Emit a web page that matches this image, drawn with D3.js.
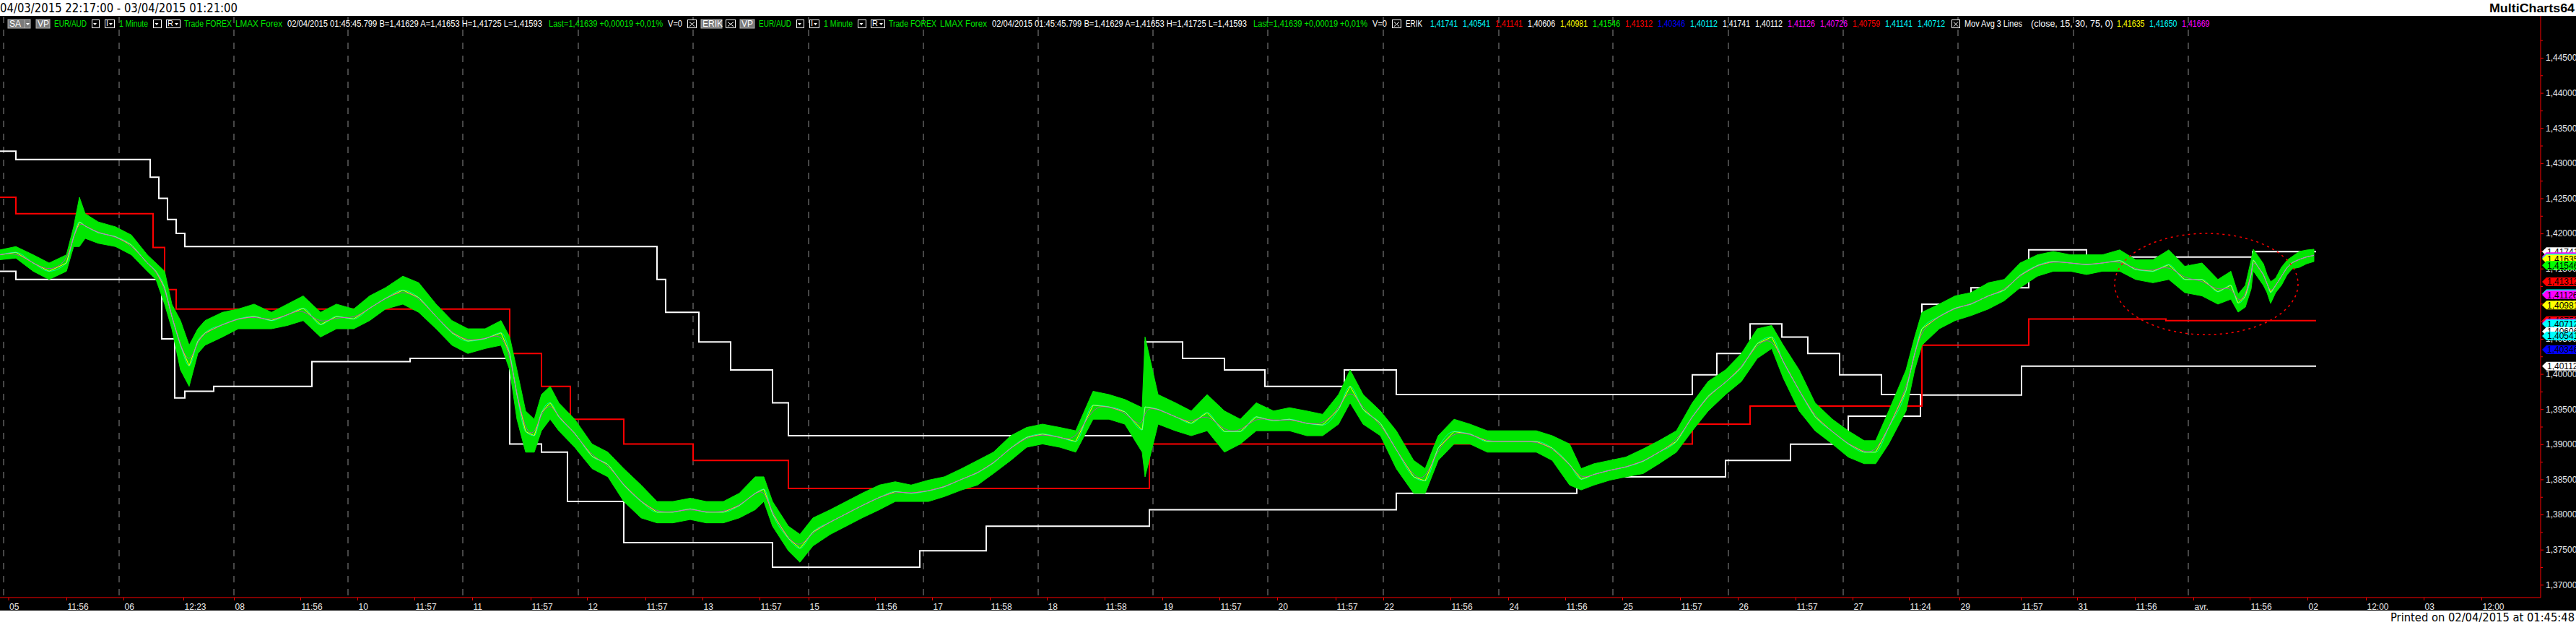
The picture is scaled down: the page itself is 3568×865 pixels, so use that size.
<!DOCTYPE html>
<html>
<head>
<meta charset="utf-8">
<script src="https://d3js.org/d3.v7.min.js"></script>
<style>
  body { margin: 0; background: #fff; }
  text { font-family: "Liberation Sans Narrow", "Liberation Sans", Arial, sans-serif; }
</style>
</head>
<body>
<script>
// ---- data (bar index = 1 minute bar, prices EUR/AUD) ----
var sampleBars = [0,11,23,34,46,51,55,59,68,80,91,102,108,114,119,125,131,137,142,154,
  165,176,188,199,210,222,233,245,256,267,279,290,302,313,324,336,347,353,358,364,
  370,375,381,387,398,410,421,432,444,455,466,478,489,501,512,523,529,535,546,554,
  563,575,586,597,609,620,631,643,654,666,677,688,700,711,722,734,745,757,768,779,
  791,793,802,814,825,836,848,859,870,882,893,905,916,927,935,944,956,967,979,987,
  996,1007,1018,1030,1041,1052,1064,1075,1087,1095,1104,1115,1126,1138,1149,1161,1172,1183,1195,1206,
  1217,1227,1235,1246,1257,1269,1280,1291,1299,1308,1320,1326,1331,1343,1354,1365,1377,1388,1399,1411,
  1422,1434,1445,1456,1468,1479,1491,1502,1513,1525,1536,1545,1550,1555,1559,1560.5,1564,1567.5,1570,1572.5,
  1576,1580,1584,1587.5,1592.5,1597.5,1602.5];
var hiPrice = [1.41766,1.41813,1.41696,1.41579,1.41696,1.42094,1.42515,1.42281,1.42164,1.42094,
  1.41977,1.41696,1.41579,1.41462,1.40994,1.40760,1.40409,1.40643,1.40760,1.40877,
  1.40924,1.40994,1.40877,1.40994,1.41111,1.40877,1.40994,1.40924,1.41111,1.41228,
  1.41392,1.41298,1.40994,1.40760,1.40643,1.40643,1.40760,1.40526,1.40058,1.39473,
  1.39356,1.39707,1.39824,1.39590,1.39356,1.39004,1.38887,1.38653,1.38419,1.38185,
  1.38185,1.38232,1.38185,1.38185,1.38302,1.38536,1.38536,1.38185,1.37834,1.37717,
  1.37951,1.38068,1.38185,1.38302,1.38419,1.38466,1.38419,1.38489,1.38536,1.38653,
  1.38770,1.38887,1.39121,1.39239,1.39286,1.39239,1.39192,1.39754,1.39707,1.39637,
  1.39520,1.40526,1.39707,1.39590,1.39473,1.39707,1.39473,1.39356,1.39590,1.39473,
  1.39520,1.39473,1.39426,1.39707,1.40058,1.39707,1.39473,1.39192,1.38770,1.38653,
  1.39121,1.39356,1.39286,1.39192,1.39192,1.39192,1.39192,1.39121,1.39004,1.38653,
  1.38723,1.38770,1.38817,1.38934,1.39051,1.39192,1.39590,1.39894,1.40058,1.40292,
  1.40643,1.40690,1.40409,1.40058,1.39590,1.39356,1.39192,1.39051,1.39051,1.39473,
  1.40058,1.40526,1.40877,1.40994,1.41111,1.41158,1.41298,1.41345,1.41579,1.41696,
  1.41743,1.41696,1.41696,1.41696,1.41766,1.41626,1.41626,1.41766,1.41532,1.41579,
  1.41345,1.41462,1.41137,1.41261,1.41621,1.41775,1.41672,1.41569,1.41415,1.41312,
  1.41364,1.41518,1.41621,1.41672,1.41744,1.41764,1.41775];
var loPrice = [1.41626,1.41649,1.41462,1.41345,1.41462,1.41813,1.41813,1.41930,1.41860,1.41813,
  1.41696,1.41462,1.41345,1.40994,1.40643,1.40058,1.39824,1.40292,1.40409,1.40526,
  1.40643,1.40643,1.40643,1.40690,1.40760,1.40526,1.40643,1.40643,1.40760,1.40924,
  1.40994,1.40877,1.40643,1.40409,1.40292,1.40362,1.40409,1.40058,1.39356,1.38887,
  1.38887,1.39192,1.39356,1.39192,1.38957,1.38653,1.38536,1.38185,1.37951,1.37881,
  1.37881,1.37928,1.37881,1.37881,1.37951,1.38068,1.38185,1.37834,1.37484,1.37320,
  1.37553,1.37717,1.37834,1.37951,1.38068,1.38185,1.38185,1.38185,1.38255,1.38349,
  1.38419,1.38583,1.38770,1.38957,1.39004,1.38957,1.38887,1.39356,1.39356,1.39286,
  1.38887,1.38536,1.39286,1.39192,1.39121,1.39192,1.38887,1.39004,1.39192,1.39192,
  1.39192,1.39121,1.39121,1.39286,1.39590,1.39286,1.39121,1.38653,1.38302,1.38302,
  1.38770,1.39004,1.39004,1.38887,1.38887,1.38887,1.38887,1.38770,1.38419,1.38349,
  1.38419,1.38489,1.38536,1.38583,1.38723,1.38887,1.39192,1.39473,1.39707,1.39894,
  1.40222,1.40362,1.39941,1.39473,1.39192,1.39004,1.38817,1.38723,1.38723,1.39004,
  1.39473,1.40058,1.40409,1.40643,1.40760,1.40830,1.40924,1.41041,1.41228,1.41392,
  1.41462,1.41462,1.41415,1.41462,1.41462,1.41345,1.41298,1.41345,1.41158,1.41111,
  1.40994,1.41064,1.40880,1.40952,1.41209,1.41466,1.41363,1.41261,1.41158,1.41004,
  1.41158,1.41261,1.41415,1.41497,1.41518,1.41569,1.41600];

// channel (step lines): [bar, price]
var upperBand = [[0,1.43170],[11,1.43053],[104,1.4280],[110,1.4250],[116,1.4220],[122,1.4200],[128,1.41813],[455,1.41345],
  [461,1.40877],[484,1.40456],[506,1.40058],[535,1.39590],[546,1.39121],[793,1.40456],[819,1.40222],
  [848,1.40058],[876,1.39824],[931,1.40058],[967,1.39707],[1172,1.39988],[1189,1.40292],[1212,1.40713],
  [1234,1.40526],[1252,1.40292],[1274,1.39988],[1303,1.39707],[1331,1.40994],[1365,1.41228],
  [1405,1.41766],[1445,1.41665],[1560,1.41741],[1604,1.41741]];
var lowerBand = [[0,1.41462],[11,1.41345],[112,1.4050],[121,1.39660],[128,1.39754],[148,1.39824],
  [216,1.40175],[284,1.40222],[353,1.39004],[375,1.38887],[393,1.38185],[432,1.37600],[535,1.37249],
  [637,1.37484],[683,1.37834],[796,1.38068],[967,1.38302],[1092,1.38536],[1195,1.38770],[1240,1.39000],
  [1280,1.39400],[1330,1.39700],[1400,1.40112],[1604,1.40112]];
var midBand = [[0,1.42515],[11,1.42281],[106,1.4180],[114,1.4120],[122,1.40924],[353,1.40292],
  [375,1.39824],[395,1.39356],[432,1.39004],[480,1.38770],[546,1.38372],[796,1.39004],[1172,1.39286],
  [1212,1.39543],[1331,1.40409],[1405,1.40783],[1500,1.40759],[1604,1.40759]];

// axes
var yMajor = [1.370,1.375,1.380,1.385,1.390,1.395,1.400,1.405,1.410,1.415,1.420,1.425,1.430,1.435,1.440,1.445];
var yMinor = [1.3725,1.3775,1.3825,1.3875,1.3925,1.3975,1.4025,1.4075,1.4125,1.4175,1.4225,1.4275,1.4325,1.4375,1.4425,1.4475];
var xTickBars = [5.75,46,85.5,127,162,208,247.5,287,327,367.5,406.5,447,486.5,526,560,606,645.5,685.5,725,765,
  805,844.5,884.5,925,958,1004.5,1044.5,1084,1123.5,1163.5,1203.5,1243.5,1283,1322,1357,1399.5,1438.5,
  1478.5,1519,1558,1598,1638.5,1678.5,1718.5];
var xLabels = ["05","11:56","06","12:23","08","11:56","10","11:57","11","11:57","12","11:57","13","11:57",
  "15","11:56","17","11:58","18","11:58","19","11:57","20","11:57","22","11:56","24","11:56","25","11:57",
  "26","11:57","27","11:24","29","11:57","31","11:56","avr.","11:56","02","12:00","03","12:00"];
var gridBars = [2.5,82.5,162,241,320.5,400.5,480,560,639.5,719,798.5,878,958,1038,1117,1197,1276.5,1356,1436,1515.5];

// price flags on the right scale
var flagValues = [1.41741,1.41669,1.41650,1.41635,1.41546,1.41312,1.41141,1.41126,1.40981,1.40759,1.40726,1.40712,1.40606,1.40541,1.40346,1.40112];
var flagColors = ["#ffffff","#ff00ff","#00ffff","#ffff00","#00ff00","#ff0000","#00ffff","#ff00ff","#ffff00","#ff0000","#ff00ff","#00ffff","#ffffff","#00ffff","#0000ff","#ffffff"];

// ERIK study values in the status line
var erikValues = ["1,41741","1,40541","1,41141","1,40606","1,40981","1,41546","1,41312","1,40346","1,40112","1,41741","1,40112","1,41126","1,40726","1,40759","1,41141","1,40712"];
var erikColors = ["#00ffff","#00ffff","#ff0000","#ffffff","#ffff00","#00ff00","#ff0000","#0000ff","#00ffff","#ffffff","#ffffff","#ff00ff","#ff00ff","#ff0000","#00ffff","#00ffff"];
var maValues = ["1,41635","1,41650","1,41669"];
var maColors = ["#ffff00","#00ffff","#ff00ff"];

var W = 3568, H = 865;
var plotRight = 3519, plotTop = 40, plotBottom = 827;
var GREEN = "#00e600";

var svg = d3.select("body").append("svg").attr("width", W).attr("height", H);
svg.append("rect").attr("width", W).attr("height", H).attr("fill", "#fff");
svg.append("rect").attr("y", 22).attr("width", W).attr("height", 823).attr("fill", "#000");

// title / footer
svg.append("text").attr("x", 0).attr("y", 17).attr("font-size", 17).attr("fill", "#000")
  .style("font-family", "'DejaVu Sans', sans-serif")
  .attr("textLength", 329).attr("lengthAdjust", "spacingAndGlyphs")
  .text("04/03/2015 22:17:00 - 03/04/2015 01:21:00");
svg.append("text").attr("x", 3566).attr("y", 17).attr("font-size", 16).attr("font-weight", "bold")
  .attr("text-anchor", "end").attr("fill", "#000")
  .style("font-family", "'Liberation Sans', Arial, sans-serif")
  .attr("textLength", 118).attr("lengthAdjust", "spacingAndGlyphs").text("MultiCharts64");
svg.append("text").attr("x", 3566).attr("y", 860).attr("font-size", 16).attr("text-anchor", "end").attr("fill", "#000")
  .style("font-family", "'DejaVu Sans', sans-serif")
  .attr("textLength", 255).attr("lengthAdjust", "spacingAndGlyphs").text("Printed on 02/04/2015 at 01:45:48");

var x = d3.scaleLinear().domain([0, 1759.5]).range([0, plotRight]);
var y = d3.scaleLinear().domain([1.36818, 1.44911]).range([plotBottom, plotTop]);

// dashed grid
svg.append("g").selectAll("line").data(gridBars).join("line")
  .attr("x1", d => x(d)).attr("x2", d => x(d)).attr("y1", 23).attr("y2", 825)
  .attr("stroke", "#8c8c8c").attr("stroke-dasharray", "9,9");

svg.append("defs").append("clipPath").attr("id", "clip").append("rect")
  .attr("x", 0).attr("y", plotTop).attr("width", plotRight).attr("height", plotBottom - plotTop);
var plot = svg.append("g").attr("clip-path", "url(#clip)");

var step = d3.line().x(d => x(d[0])).y(d => y(d[1])).curve(d3.curveStepAfter);
plot.append("path").datum(upperBand).attr("d", step).attr("fill", "none").attr("stroke", "#fff").attr("stroke-width", 2);
plot.append("path").datum(lowerBand).attr("d", step).attr("fill", "none").attr("stroke", "#fff").attr("stroke-width", 2);
plot.append("path").datum(midBand).attr("d", step).attr("fill", "none").attr("stroke", "#ff0000").attr("stroke-width", 2);

// price range (high-low) with the three moving averages through it
var rows = sampleBars.map((b, i) => ({ b: b, hi: hiPrice[i], lo: loPrice[i] }));
plot.append("path").datum(rows)
  .attr("d", d3.area().x(d => x(d.b)).y0(d => y(d.lo)).y1(d => y(d.hi)))
  .attr("fill", GREEN).attr("stroke", GREEN).attr("stroke-width", 1);
var maLine = c => d3.line().x(d => x(d.b)).y(d => y((d.hi + d.lo) / 2)).curve(c);
plot.append("path").datum(rows).attr("d", maLine(d3.curveLinear)).attr("fill", "none").attr("stroke", "#ffff00").attr("stroke-width", 1);
plot.append("path").datum(rows).attr("d", maLine(d3.curveMonotoneX)).attr("fill", "none").attr("stroke", "#00ffff").attr("stroke-width", 0.8).attr("opacity", 0.8);
plot.append("path").datum(rows).attr("d", maLine(d3.curveBasis)).attr("fill", "none").attr("stroke", "#ff00ff").attr("stroke-width", 0.8).attr("opacity", 0.8);

// red dashed ellipse
plot.append("ellipse").attr("cx", 3056).attr("cy", y(1.4128)).attr("rx", 127).attr("ry", 70)
  .attr("fill", "none").attr("stroke", "#ff0000").attr("stroke-width", 1.5).attr("stroke-dasharray", "3,5");

// axes
var yAxis = svg.append("g").attr("transform", "translate(" + plotRight + ",0)")
  .call(d3.axisRight(y).tickValues(yMajor).tickSize(4).tickPadding(3)
    .tickFormat(d => d.toFixed(5).replace(".", ",")));
svg.append("g").attr("transform", "translate(" + plotRight + ",0)")
  .call(d3.axisRight(y).tickValues(yMinor.filter(v => y(v) > plotTop)).tickSize(3).tickFormat(""))
  .select(".domain").remove();
yAxis.select(".domain").attr("d", "M0,22V" + plotBottom);
var xAxis = svg.append("g").attr("transform", "translate(0," + plotBottom + ")")
  .call(d3.axisBottom(x).tickValues(xTickBars).tickSize(4).tickPadding(2).tickFormat((d, i) => xLabels[i]));
xAxis.select(".domain").attr("d", "M0,0H" + plotRight);
svg.selectAll(".domain").attr("stroke", "#ff0000");
svg.selectAll(".tick line").attr("stroke", "#ff0000");
svg.selectAll(".tick text").attr("fill", "#e8e8e8").attr("font-size", 12)
  .style("font-family", "'Liberation Sans Narrow', 'Liberation Sans', Arial, sans-serif");
xAxis.selectAll(".tick text").attr("text-anchor", "start").attr("x", 1).attr("dy", "0.95em");

// flags
var flagG = svg.append("g");
flagValues.forEach(function (v, i) {
  var g = flagG.append("g").attr("transform", "translate(0," + y(v) + ")");
  g.append("path").attr("d", "M3521,0L3527,-6H3568V6H3527Z").attr("fill", flagColors[i]);
  g.append("text").attr("x", 3528).attr("y", 4.5).attr("font-size", 12).attr("fill", "#000").text(v.toFixed(5).replace(".", ","));
});

// ---- status line ----
var bar = svg.append("g");
var TY = 37;
function label(tx, px, w, col) {
  bar.append("text").attr("x", px).attr("y", TY).attr("font-size", 12).attr("fill", col)
    .attr("textLength", w).attr("lengthAdjust", "spacingAndGlyphs").text(tx);
}
function grayBox(tx, x0, x1, drop) {
  bar.append("rect").attr("x", x0).attr("y", 27).attr("width", x1 - x0).attr("height", 12)
    .attr("fill", "#7a7a7a").attr("stroke", "#b0b0b0");
  bar.append("text").attr("x", x0 + 2).attr("y", TY).attr("font-size", 12).attr("fill", "#fff").text(tx);
  if (drop) {
    bar.append("line").attr("x1", drop).attr("x2", drop).attr("y1", 27).attr("y2", 39).attr("stroke", "#b0b0b0");
    bar.append("path").attr("d", "M" + (drop + 2) + ",32h5l-2.5,3z").attr("fill", "#fff");
  }
}
function box(x0, x1, tx) {
  bar.append("rect").attr("x", x0 + 0.5).attr("y", 27.5).attr("width", x1 - x0).attr("height", 11)
    .attr("fill", "#000").attr("stroke", "#fff");
  if (tx === "x") {
    bar.append("path").attr("d", "M" + (x0 + 3) + ",30.5l" + (x1 - x0 - 5) + ",6m0,-6l-" + (x1 - x0 - 5) + ",6")
      .attr("stroke", "#fff");
  } else {
    if (tx) bar.append("text").attr("x", x0 + 2).attr("y", TY - 1).attr("font-size", 11).attr("fill", "#fff").text(tx);
    var tx0 = tx ? x1 - 7 : (x0 + x1) / 2 - 3;
    bar.append("path").attr("d", "M" + tx0 + ",32h5l-2.5,3z").attr("fill", "#fff");
  }
}
function symbolGroup(o) {
  label("EUR/AUD", 75 + o, 45, GREEN);
  box(127 + o, 137 + o);
  box(145 + o, 158 + o, "I");
  label("1 Minute", 165 + o, 40, GREEN);
  box(212 + o, 223 + o);
  box(230 + o, 249 + o, "R");
  label("Trade  FOREX", 255 + o, 66, GREEN);
  label("LMAX  Forex", 326 + o, 65, GREEN);
  label("02/04/2015  01:45:45.799  B=1,41629  A=1,41653  H=1,41725  L=1,41593", 398 + o, 353, "#fff");
  label("Last=1,41639  +0,00019  +0,01%", 760 + o, 158, GREEN);
  label("V=0", 925 + o, 20, "#fff");
  box(952 + o, 964 + o, "x");
}
grayBox("SA", 11, 42, 34);
grayBox("VP", 50, 69);
symbolGroup(0);
grayBox("ERIK", 971, 1000);
box(1005, 1018, "x");
grayBox("VP", 1025, 1045);
symbolGroup(976);
label("ERIK", 1947, 23, "#fff");
erikValues.forEach((v, i) => label(v, 1981 + i * 45, 38, erikColors[i]));
box(2703, 2714, "x");
label("Mov Avg 3 Lines", 2721, 80, "#fff");
label("(close,  15,  30,  75,  0)", 2813, 114, "#fff");
maValues.forEach((v, i) => label(v, 2932 + i * 45, 38.5, maColors[i]));
</script>
</body>
</html>
